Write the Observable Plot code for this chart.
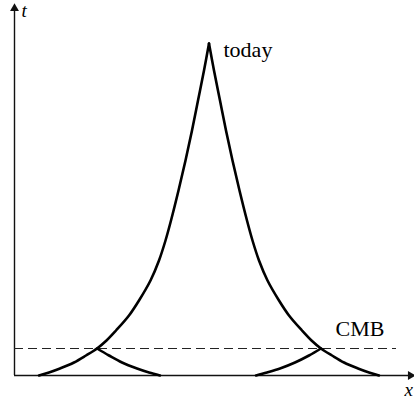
<!DOCTYPE html>
<html>
<head>
<meta charset="utf-8">
<script src="https://cdn.jsdelivr.net/npm/d3@7"></script>
<script src="https://cdn.jsdelivr.net/npm/@observablehq/plot@0.6"></script>
<style>
  html, body { margin: 0; padding: 0; background: #fff; }
  svg { display: block; overflow: visible; }
</style>
</head>
<body>
<div id="chart"></div>
<script>
// Past light cone of "today" (comoving x, time t)
const coneT      = [332, 305, 275, 245, 215, 185, 155, 135, 115, 95, 75, 60, 45, 35, 27, 20, 13, 7, 3, 0];
const coneLeftX  = [194.5, 189.5, 183.5, 177.5, 171, 164, 156.5, 151, 144.5, 136, 124.5, 114.5, 101.5, 92, 82.5, 71.5, 59.5, 45.5, 34.5, 24.5];
const coneRightX = [194.5, 199.5, 205.5, 211.5, 218, 225, 232.5, 238, 244.5, 253, 264.5, 274.5, 287.5, 297, 306.5, 317.5, 329.5, 343.5, 354.5, 364.5];
// Small light cones from the two CMB points
const smallT      = [27, 20, 13, 7, 3, 0];
const smallLeftX  = [82.5, 94.5, 107.5, 122.5, 134.5, 145.5];
const smallRightX = [306.5, 294.5, 280.5, 265.5, 252.5, 241.5];
// CMB time and axis extents
const cmbT = 27;
const dashEndX = 382;
const xAxisEnd = 394;
const tAxisEnd = 367;
// Labels
const labels = [
  {x: 209, t: 319, text: "today", size: 22, style: "normal"},
  {x: 321, t: 40,  text: "CMB",   size: 22, style: "normal"},
  {x: 7,   t: 359, text: "t",     size: 19, style: "italic"},
  {x: 390, t: -20, text: "x",     size: 19, style: "italic"}
];

const toPts = (xs, ts) => xs.map((x, i) => ({x, t: ts[i]}));

const plot = Plot.plot({
  width: 414,
  height: 402,
  marginLeft: 14,
  marginRight: 0,
  marginTop: 3,
  marginBottom: 27,
  x: {domain: [0, 400], axis: null},
  y: {domain: [0, 372], axis: null},
  style: {background: "#fff", overflow: "visible"},
  marks: [
    // axes
    Plot.ruleX([0], {y1: 0, y2: tAxisEnd, stroke: "#111", strokeWidth: 1.4}),
    Plot.ruleY([0], {x1: 0, x2: xAxisEnd, stroke: "#111", strokeWidth: 1.4}),
    Plot.dot([{x: 0, t: tAxisEnd}], {x: "x", y: "t", symbol: "triangle", r: 3.3, fill: "#111", stroke: "none"}),
    Plot.dot([{x: xAxisEnd + 2, t: 0}], {x: "x", y: "t", symbol: "triangle", r: 3.3, fill: "#111", stroke: "none", rotate: 90}),
    // CMB dashed line
    Plot.ruleY([cmbT], {x1: 0, x2: dashEndX, stroke: "#222", strokeWidth: 1.2, strokeDasharray: "9,5"}),
    // light cones
    Plot.line(toPts(coneLeftX, coneT), {x: "x", y: "t", curve: "catmull-rom", stroke: "#000", strokeWidth: 2.6}),
    Plot.line(toPts(coneRightX, coneT), {x: "x", y: "t", curve: "catmull-rom", stroke: "#000", strokeWidth: 2.6}),
    Plot.line(toPts(smallLeftX, smallT), {x: "x", y: "t", curve: "catmull-rom", stroke: "#000", strokeWidth: 2.6}),
    Plot.line(toPts(smallRightX, smallT), {x: "x", y: "t", curve: "catmull-rom", stroke: "#000", strokeWidth: 2.6}),
    // labels
    ...labels.map(d => Plot.text([d], {
      x: "x", y: "t", text: "text", textAnchor: "start", lineAnchor: "bottom",
      fontSize: d.size, fontFamily: "'Liberation Serif', 'DejaVu Serif', serif",
      fontStyle: d.style, fill: "#000"
    }))
  ]
});
document.getElementById("chart").appendChild(plot);
</script>
</body>
</html>
